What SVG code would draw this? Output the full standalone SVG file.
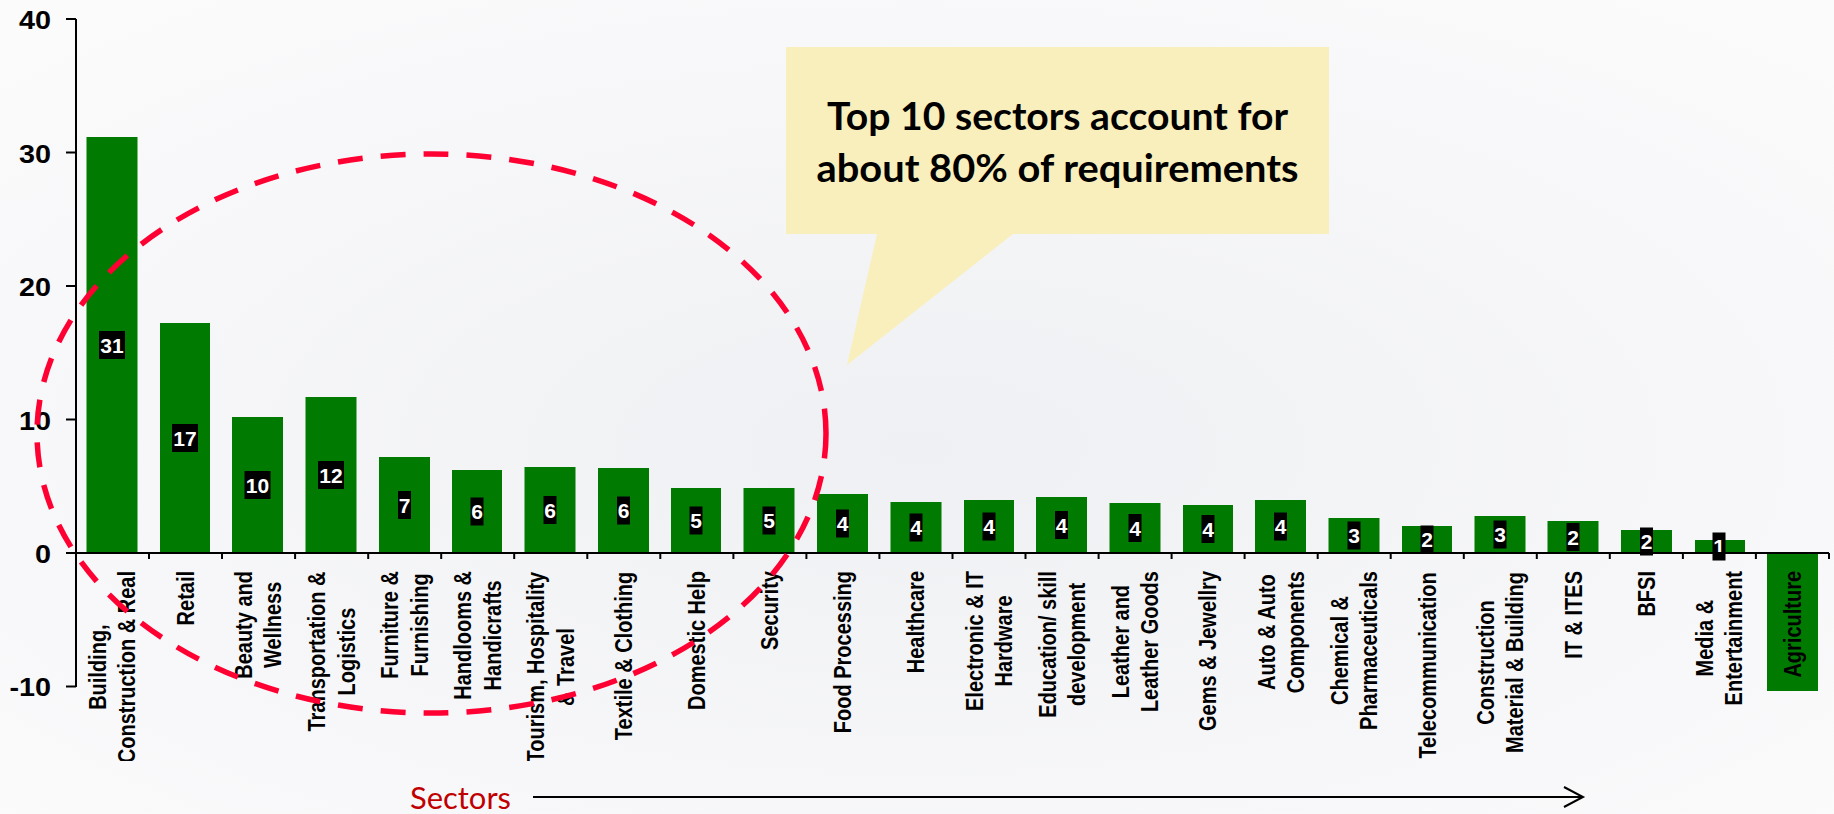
<svg xmlns="http://www.w3.org/2000/svg" width="1834" height="814" viewBox="0 0 1834 814">
<defs>
<style>
.bar{fill:#007a00}
.vbox{fill:#000}
.vtxt{font-family:"Liberation Sans",Arial,sans-serif;font-weight:bold;font-size:21px;fill:#fff;text-anchor:middle}
.cat{font-family:"Liberation Sans",Arial,sans-serif;font-weight:bold;font-size:20px;fill:#000;text-anchor:middle;dominant-baseline:central}
.tick{font-family:"Liberation Sans",Arial,sans-serif;font-weight:bold;font-size:25px;fill:#000;text-anchor:end}
.axis{stroke:#000;stroke-width:2;fill:none}
.tk{stroke:#000;stroke-width:2}
</style>
<radialGradient id="bg" cx="50%" cy="55%" r="70%">
<stop offset="0" stop-color="#eff0f3"/>
<stop offset="1" stop-color="#fbfbfc"/>
</radialGradient>
<clipPath id="lc"><rect x="0" y="555" width="1834" height="206"/></clipPath>
<marker id="arr" markerWidth="24" markerHeight="24" refX="20" refY="12" orient="auto" markerUnits="userSpaceOnUse">
<polyline points="1,2 20,12 1,22" fill="none" stroke="#000" stroke-width="2"/>
</marker>
</defs>
<rect width="1834" height="814" fill="url(#bg)"/>

<g id="axes">
<line class="axis" x1="76" y1="19" x2="76" y2="687"/>
<line class="tk" x1="66" y1="19" x2="76" y2="19"/>
<line class="tk" x1="66" y1="152.5" x2="76" y2="152.5"/>
<line class="tk" x1="66" y1="286" x2="76" y2="286"/>
<line class="tk" x1="66" y1="419.5" x2="76" y2="419.5"/>
<line class="tk" x1="66" y1="686.5" x2="76" y2="686.5"/>
<text class="tick" transform="translate(51,29) scale(1.15,1)">40</text>
<text class="tick" transform="translate(51,162.5) scale(1.15,1)">30</text>
<text class="tick" transform="translate(51,296) scale(1.15,1)">20</text>
<text class="tick" transform="translate(51,429.5) scale(1.15,1)">10</text>
<text class="tick" transform="translate(51,562.5) scale(1.15,1)">0</text>
<text class="tick" transform="translate(51,696) scale(1.15,1)">-10</text>
</g>

<g id="bars">
<g id="c01"><rect class="bar" x="86.5" y="137" width="51" height="416"/><rect class="vbox" x="99" y="331" width="26" height="28"/><text class="vtxt" x="112" y="352.5">31</text>
<g clip-path="url(#lc)"><g transform="translate(112.5,571) scale(1.22,1) rotate(-90)"><text class="cat" x="-96.1" y="-12">Building,</text><text class="cat" x="-96.1" y="12">Construction &amp; Real</text></g></g></g>
<g id="c02"><rect class="bar" x="160" y="323" width="50" height="230"/><rect class="vbox" x="172" y="424" width="26" height="28"/><text class="vtxt" x="185" y="445.5">17</text>
<g clip-path="url(#lc)"><g transform="translate(185.6,571) scale(1.22,1) rotate(-90)"><text class="cat" x="-27.2" y="0">Retail</text></g></g></g>
<g id="c03"><rect class="bar" x="232" y="417" width="51" height="136"/><rect class="vbox" x="244.5" y="471" width="26" height="28"/><text class="vtxt" x="257.5" y="492.5">10</text>
<g clip-path="url(#lc)"><g transform="translate(258.6,571) scale(1.22,1) rotate(-90)"><text class="cat" x="-53.9" y="-12">Beauty and</text><text class="cat" x="-53.9" y="12">Wellness</text></g></g></g>
<g id="c04"><rect class="bar" x="305.5" y="397" width="51" height="156"/><rect class="vbox" x="318" y="461" width="26" height="28"/><text class="vtxt" x="331" y="482.5">12</text>
<g clip-path="url(#lc)"><g transform="translate(331.7,571) scale(1.22,1) rotate(-90)"><text class="cat" x="-80.6" y="-12">Transportation &amp;</text><text class="cat" x="-80.6" y="12">Logistics</text></g></g></g>
<g id="c05"><rect class="bar" x="379" y="457" width="51" height="96"/><rect class="vbox" x="398" y="491" width="13" height="28"/><text class="vtxt" x="404.5" y="512.5">7</text>
<g clip-path="url(#lc)"><g transform="translate(404.7,571) scale(1.22,1) rotate(-90)"><text class="cat" x="-53.9" y="-12">Furniture &amp;</text><text class="cat" x="-53.9" y="12">Furnishing</text></g></g></g>
<g id="c06"><rect class="bar" x="452" y="470" width="50" height="83"/><rect class="vbox" x="470.5" y="497.5" width="13" height="28"/><text class="vtxt" x="477" y="519">6</text>
<g clip-path="url(#lc)"><g transform="translate(477.7,571) scale(1.22,1) rotate(-90)"><text class="cat" x="-64.4" y="-12">Handlooms &amp;</text><text class="cat" x="-64.4" y="12">Handicrafts</text></g></g></g>
<g id="c07"><rect class="bar" x="524.5" y="467" width="51" height="86"/><rect class="vbox" x="543.5" y="496" width="13" height="28"/><text class="vtxt" x="550" y="517.5">6</text>
<g clip-path="url(#lc)"><g transform="translate(550.8,571) scale(1.22,1) rotate(-90)"><text class="cat" x="-96.1" y="-12">Tourism, Hospitality</text><text class="cat" x="-96.1" y="12">&amp; Travel</text></g></g></g>
<g id="c08"><rect class="bar" x="598" y="468" width="51" height="85"/><rect class="vbox" x="617" y="496.5" width="13" height="28"/><text class="vtxt" x="623.5" y="518">6</text>
<g clip-path="url(#lc)"><g transform="translate(623.8,571) scale(1.22,1) rotate(-90)"><text class="cat" x="-85" y="0">Textile &amp; Clothing</text></g></g></g>
<g id="c09"><rect class="bar" x="671" y="488" width="50" height="65"/><rect class="vbox" x="689.5" y="506.5" width="13" height="28"/><text class="vtxt" x="696" y="528">5</text>
<g clip-path="url(#lc)"><g transform="translate(696.9,571) scale(1.22,1) rotate(-90)"><text class="cat" x="-69.5" y="0">Domestic Help</text></g></g></g>
<g id="c10"><rect class="bar" x="743.5" y="488" width="51" height="65"/><rect class="vbox" x="762.5" y="506.5" width="13" height="28"/><text class="vtxt" x="769" y="528">5</text>
<g clip-path="url(#lc)"><g transform="translate(769.9,571) scale(1.22,1) rotate(-90)"><text class="cat" x="-39.5" y="0">Security</text></g></g></g>
<g id="c11"><rect class="bar" x="817" y="494" width="51" height="59"/><rect class="vbox" x="836" y="509.5" width="13" height="28"/><text class="vtxt" x="842.5" y="531">4</text>
<g clip-path="url(#lc)"><g transform="translate(843,571) scale(1.22,1) rotate(-90)"><text class="cat" x="-81.1" y="0">Food Processing</text></g></g></g>
<g id="c12"><rect class="bar" x="890.5" y="502" width="51" height="51"/><rect class="vbox" x="909.5" y="513.5" width="13" height="28"/><text class="vtxt" x="916" y="535">4</text>
<g clip-path="url(#lc)"><g transform="translate(916,571) scale(1.22,1) rotate(-90)"><text class="cat" x="-51.1" y="0">Healthcare</text></g></g></g>
<g id="c13"><rect class="bar" x="964" y="500" width="50" height="53"/><rect class="vbox" x="982.5" y="512.5" width="13" height="28"/><text class="vtxt" x="989" y="534">4</text>
<g clip-path="url(#lc)"><g transform="translate(989,571) scale(1.22,1) rotate(-90)"><text class="cat" x="-70" y="-12">Electronic &amp; IT</text><text class="cat" x="-70" y="12">Hardware</text></g></g></g>
<g id="c14"><rect class="bar" x="1036" y="497" width="51" height="56"/><rect class="vbox" x="1055" y="511" width="13" height="28"/><text class="vtxt" x="1061.5" y="532.5">4</text>
<g clip-path="url(#lc)"><g transform="translate(1062.1,571) scale(1.22,1) rotate(-90)"><text class="cat" x="-73.4" y="-12">Education/ skill</text><text class="cat" x="-73.4" y="12">development</text></g></g></g>
<g id="c15"><rect class="bar" x="1109.5" y="503" width="51" height="50"/><rect class="vbox" x="1128.5" y="514" width="13" height="28"/><text class="vtxt" x="1135" y="535.5">4</text>
<g clip-path="url(#lc)"><g transform="translate(1135.1,571) scale(1.22,1) rotate(-90)"><text class="cat" x="-70.6" y="-12">Leather and</text><text class="cat" x="-70.6" y="12">Leather Goods</text></g></g></g>
<g id="c16"><rect class="bar" x="1183" y="505" width="50" height="48"/><rect class="vbox" x="1201.5" y="515" width="13" height="28"/><text class="vtxt" x="1208" y="536.5">4</text>
<g clip-path="url(#lc)"><g transform="translate(1208.2,571) scale(1.22,1) rotate(-90)"><text class="cat" x="-80" y="0">Gems &amp; Jewellry</text></g></g></g>
<g id="c17"><rect class="bar" x="1255" y="500" width="51" height="53"/><rect class="vbox" x="1274" y="512.5" width="13" height="28"/><text class="vtxt" x="1280.5" y="534">4</text>
<g clip-path="url(#lc)"><g transform="translate(1281.2,571) scale(1.22,1) rotate(-90)"><text class="cat" x="-61.1" y="-12">Auto &amp; Auto</text><text class="cat" x="-61.1" y="12">Components</text></g></g></g>
<g id="c18"><rect class="bar" x="1328.5" y="518" width="51" height="35"/><rect class="vbox" x="1347.5" y="521.5" width="13" height="28"/><text class="vtxt" x="1354" y="543">3</text>
<g clip-path="url(#lc)"><g transform="translate(1354.2,571) scale(1.22,1) rotate(-90)"><text class="cat" x="-79.5" y="-12">Chemical &amp;</text><text class="cat" x="-79.5" y="12">Pharmaceuticals</text></g></g></g>
<g id="c19"><rect class="bar" x="1402" y="526" width="50" height="27"/><rect class="vbox" x="1420.5" y="525.5" width="13" height="28"/><text class="vtxt" x="1427" y="547">2</text>
<g clip-path="url(#lc)"><g transform="translate(1427.3,571) scale(1.22,1) rotate(-90)"><text class="cat" x="-94.5" y="0">Telecommunication</text></g></g></g>
<g id="c20"><rect class="bar" x="1474.5" y="516" width="51" height="37"/><rect class="vbox" x="1493.5" y="520.5" width="13" height="28"/><text class="vtxt" x="1500" y="542">3</text>
<g clip-path="url(#lc)"><g transform="translate(1500.3,571) scale(1.22,1) rotate(-90)"><text class="cat" x="-91.5" y="-12">Construction</text><text class="cat" x="-91.5" y="12">Material &amp; Building</text></g></g></g>
<g id="c21"><rect class="bar" x="1547.5" y="521" width="51" height="32"/><rect class="vbox" x="1566.5" y="523" width="13" height="28"/><text class="vtxt" x="1573" y="544.5">2</text>
<g clip-path="url(#lc)"><g transform="translate(1573.4,571) scale(1.22,1) rotate(-90)"><text class="cat" x="-43.9" y="0">IT &amp; ITES</text></g></g></g>
<g id="c22"><rect class="bar" x="1621" y="530" width="51" height="23"/><rect class="vbox" x="1640" y="527.5" width="13" height="28"/><text class="vtxt" x="1646.5" y="549">2</text>
<g clip-path="url(#lc)"><g transform="translate(1646.4,571) scale(1.22,1) rotate(-90)"><text class="cat" x="-22.8" y="0">BFSI</text></g></g></g>
<g id="c23"><rect class="bar" x="1695" y="540" width="50" height="13"/><rect class="vbox" x="1712.5" y="532.5" width="13" height="28"/><text class="vtxt" x="1719" y="554">1</text>
<g clip-path="url(#lc)"><g transform="translate(1719.4,571) scale(1.22,1) rotate(-90)"><text class="cat" x="-67.2" y="-12">Media &amp;</text><text class="cat" x="-67.2" y="12">Entertainment</text></g></g></g>
<g id="c24"><rect class="bar" x="1767" y="553" width="51" height="138"/>
<g transform="translate(1792.5,571) scale(1.22,1) rotate(-90)"><text class="cat" x="-53.3" y="0">Agriculture</text></g></g>
</g>

<g id="xaxis">
<line class="axis" x1="66" y1="553" x2="1829" y2="553"/>
<path class="tk" d="M149,553V559M222,553V559M295.1,553V559M368.2,553V559M441.2,553V559M514.2,553V559M587.3,553V559M660.3,553V559M733.4,553V559M806.4,553V559M879.4,553V559M952.5,553V559M1025.5,553V559M1098.6,553V559M1171.6,553V559M1244.6,553V559M1317.7,553V559M1390.7,553V559M1463.8,553V559M1536.8,553V559M1609.8,553V559M1682.9,553V559M1755.9,553V559M1829,553V559"/>
</g>

<g id="highlight">
<ellipse cx="431.5" cy="433.5" rx="394.5" ry="279.5" fill="none" stroke="#ff0033" stroke-width="5.5" stroke-dasharray="25 18"/>
</g>

<g id="callout">
<path d="M786,47H1329V234H1013L847,365L877,234H786Z" fill="#f9efbc"/>
<text x="1057.5" y="130" text-anchor="middle" font-family="Lato,'Open Sans',sans-serif" font-weight="bold" font-size="39" textLength="461" lengthAdjust="spacingAndGlyphs" fill="#000">Top 10 sectors account for</text>
<text x="1057.5" y="182" text-anchor="middle" font-family="Lato,'Open Sans',sans-serif" font-weight="bold" font-size="39" textLength="482" lengthAdjust="spacingAndGlyphs" fill="#000">about 80% of requirements</text>
</g>

<g id="sectors-label">
<text x="410" y="809" font-family="Lato,'Open Sans',sans-serif" font-size="30" textLength="101" lengthAdjust="spacingAndGlyphs" fill="#c00000">Sectors</text>
</g>

<g id="connectors">
<line x1="533" y1="797" x2="1583" y2="797" stroke="#000" stroke-width="2" marker-end="url(#arr)"/>
</g>
</svg>
